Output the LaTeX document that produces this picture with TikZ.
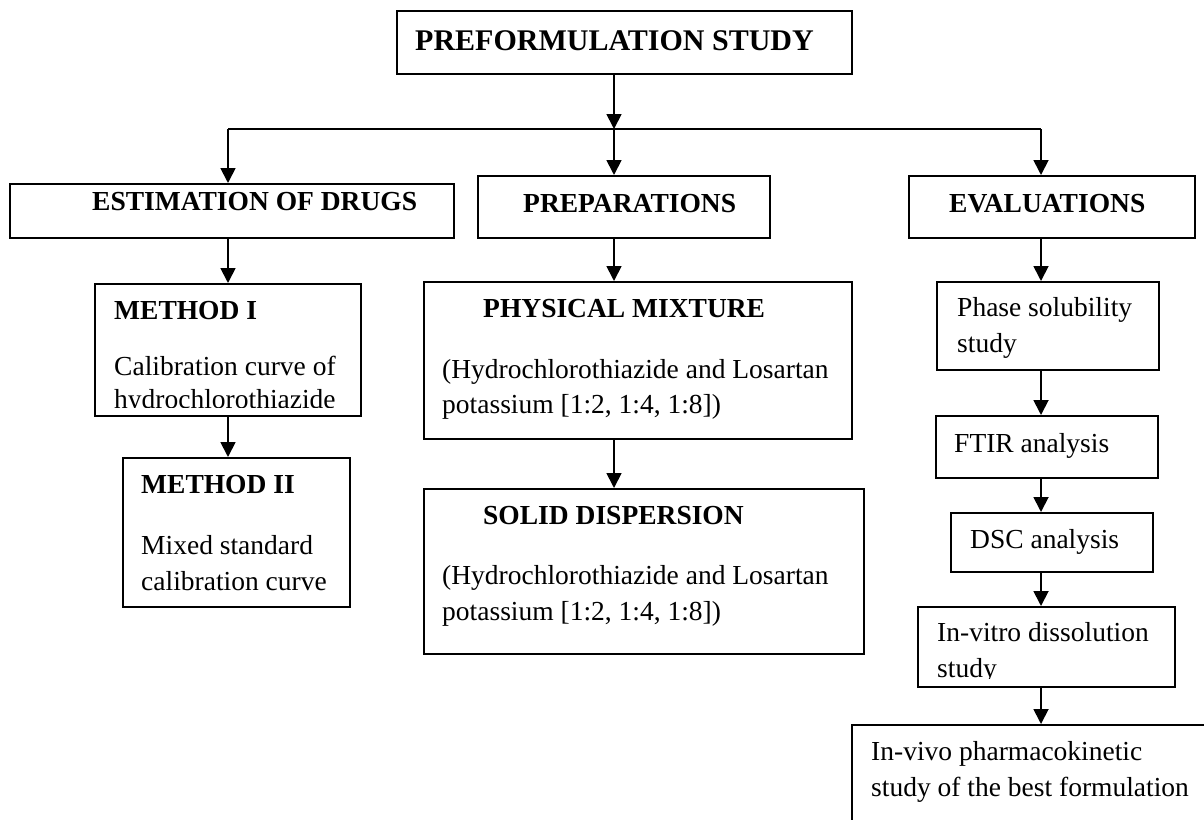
\documentclass[tikz,border=0pt]{standalone}
\usepackage{fontspec}
\setmainfont{Liberation Serif}
\usetikzlibrary{arrows.meta}

\begin{document}
\begin{tikzpicture}[x=1pt, y=-1pt]
  \tikzset{box/.style={draw, line width=1.9pt, inner sep=0pt, anchor=north west},
    txt/.style={anchor=base west, inner sep=0pt, align=left, font=\fontsize{27.5}{36}\selectfont},
    hd/.style={anchor=base west, inner sep=0pt, font=\fontsize{27.5}{36}\selectfont\bfseries},
    link/.style={line width=1.8pt, -{Triangle[length=15pt, width=15pt]}}}
  \useasboundingbox (0,0) rectangle (1204,819);

  % Top box
  \node[box, minimum width=455pt, minimum height=63pt] (pre) at (396,10) {};
  \node[hd, font=\fontsize{30}{36}\selectfont\bfseries] (pre-t) at (415,50) {PREFORMULATION STUDY};

  % Branch points on the bus
  \coordinate (busL) at (228,129);
  \coordinate (busM) at (614,129);
  \coordinate (busR) at (1041,129);

  % Second row
  \node[box, minimum width=444pt, minimum height=54pt] (est) at (9,183) {};
  \node[hd] (est-t) at (92,210) {ESTIMATION OF DRUGS};
  \node[box, minimum width=292pt, minimum height=62pt] (prep) at (477,175) {};
  \node[hd] (prep-t) at (523,212) {PREPARATIONS};
  \node[box, minimum width=286pt, minimum height=62pt] (eval) at (908,175) {};
  \node[hd] (eval-t) at (949,212) {EVALUATIONS};

  % Left column: methods (multi-line texts sit on their last baseline)
  \node[box, minimum width=266pt, minimum height=132pt] (m1) at (94,283) {};
  \node[hd] (m1-h) at (114,319) {METHOD I};
  \begin{scope}
    \clip (94,283) rectangle (360,407);
    \node[txt, font=\fontsize{27.5}{33}\selectfont] (m1-t) at (114,408) {Calibration curve of\\hydrochlorothiazide};
  \end{scope}
  \node[box, minimum width=227pt, minimum height=149pt] (m2) at (122,457) {};
  \node[hd] (m2-h) at (141,493) {METHOD II};
  \node[txt] (m2-t) at (141,590) {Mixed standard\\calibration curve};

  % Middle column: preparations
  \node[box, minimum width=428pt, minimum height=157pt] (phys) at (423,281) {};
  \node[hd] (phys-h) at (483,317) {PHYSICAL MIXTURE};
  \node[txt, font=\fontsize{27.5}{35}\selectfont] (phys-t) at (442,413) {(Hydrochlorothiazide and Losartan\\potassium [1:2, 1:4, 1:8])};
  \node[box, minimum width=440pt, minimum height=165pt] (solid) at (423,488) {};
  \node[hd] (solid-h) at (483,524) {SOLID DISPERSION};
  \node[txt] (solid-t) at (442,620) {(Hydrochlorothiazide and Losartan\\potassium [1:2, 1:4, 1:8])};

  % Right column: evaluations
  \node[box, minimum width=222pt, minimum height=88pt] (phase) at (936,281) {};
  \node[txt] (phase-t) at (957,352) {Phase solubility\\study};
  \node[box, minimum width=222pt, minimum height=62pt] (ftir) at (935,415) {};
  \node[txt] (ftir-t) at (954,452) {FTIR analysis};
  \node[box, minimum width=202pt, minimum height=59pt] (dsc) at (950,512) {};
  \node[txt] (dsc-t) at (970,548) {DSC analysis};
  \node[box, minimum width=257pt, minimum height=80pt] (vitro) at (917,606) {};
  \begin{scope}
    \clip (917,606) rectangle (1174,678);
    \node[txt] (vitro-t) at (937,677) {In-vitro dissolution\\study};
  \end{scope}
  \node[box, minimum width=400pt, minimum height=150pt] (vivo) at (851,724) {};
  \node[txt] (vivo-t) at (871,796) {In-vivo pharmacokinetic\\study of the best formulation};

  % Connectors
  \draw[link] (pre.south -| busM) -- (busM);
  \draw[line width=1.8pt] (busL) -- (busR);
  \draw[link] (busL) -- (busL |- est.north);
  \draw[link] (busM) -- (busM |- prep.north);
  \draw[link] (busR) -- (busR |- eval.north);
  \draw[link] (est.south -| busL) -- (m1.north -| busL);
  \draw[link] (m1.south -| busL) -- (m2.north -| busL);
  \draw[link] (prep.south -| busM) -- (phys.north -| busM);
  \draw[link] (phys.south -| busM) -- (solid.north -| busM);
  \foreach \a/\b in {eval/phase, phase/ftir, ftir/dsc, dsc/vitro, vitro/vivo}
    \draw[link] (\a.south -| busR) -- (\b.north -| busR);
\end{tikzpicture}
\end{document}
